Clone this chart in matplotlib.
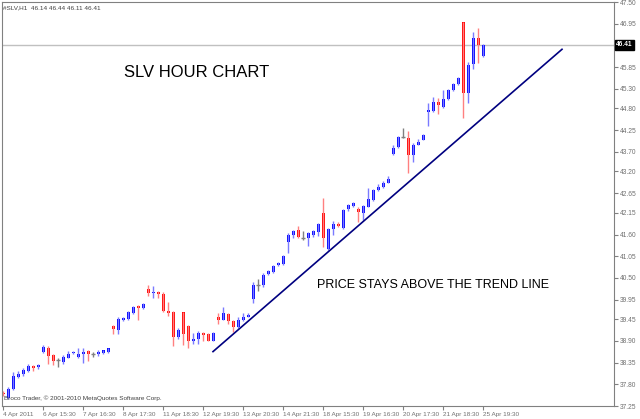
import matplotlib
matplotlib.use('Agg')
import numpy as np
from matplotlib import pyplot as plt

# SLV H1 candles (open, high, low, close)
opens = [37.58, 37.45, 37.68, 37.99, 38.07, 38.14, 38.27, 38.23, 38.63, 38.72,
         38.54, 38.41, 38.36, 38.48, 38.60, 38.50, 38.57, 38.65, 38.58, 38.57,
         38.60, 38.61, 39.29, 39.18, 39.42, 39.46, 39.60, 39.78, 39.73, 40.22,
         40.12, 40.14, 40.10, 39.66, 39.63, 38.99, 39.63, 39.29, 38.91, 38.95,
         39.09, 39.07, 38.91, 39.50, 39.44, 39.58, 39.40, 39.25, 39.42, 39.52,
         39.97, 40.31, 40.33, 40.59, 40.65, 40.82, 40.86, 41.40, 41.58, 41.71,
         41.50, 41.50, 41.58, 41.67, 42.14, 41.24, 41.73, 41.88, 41.76, 42.24,
         42.32, 42.25, 42.15, 42.31, 42.48, 42.73, 42.80, 42.92, 43.65, 43.82,
         44.07, 44.05, 43.61, 43.88, 44.01, 44.70, 44.73, 44.96, 44.84, 45.04,
         45.26, 45.41, 46.99, 45.20, 45.92, 46.58, 46.14]
highs = [37.62, 37.72, 38.10, 38.15, 38.22, 38.32, 38.30, 38.32, 38.80, 38.78,
         38.58, 38.47, 38.55, 38.65, 38.65, 38.72, 38.72, 38.66, 38.62, 38.67,
         38.67, 38.73, 39.30, 39.50, 39.50, 39.66, 39.78, 39.80, 39.86, 40.33,
         40.30, 40.18, 40.14, 39.88, 39.65, 39.22, 39.64, 39.30, 39.10, 39.15,
         39.14, 39.10, 39.12, 39.62, 39.77, 39.62, 39.42, 39.52, 39.62, 39.61,
         40.39, 40.47, 40.62, 40.70, 40.82, 40.91, 41.08, 41.63, 41.72, 41.81,
         41.68, 41.66, 41.72, 41.90, 42.52, 41.76, 41.95, 41.92, 42.26, 42.37,
         42.43, 42.30, 42.36, 42.77, 42.76, 42.87, 42.96, 43.08, 43.87, 44.10,
         44.30, 44.22, 43.92, 44.03, 44.15, 44.94, 45.08, 45.07, 45.28, 45.30,
         45.44, 45.60, 47.00, 45.98, 46.74, 46.83, 46.44]
lows = [37.50, 37.42, 37.66, 37.95, 38.00, 38.12, 38.15, 38.20, 38.60, 38.31,
        38.30, 38.23, 38.32, 38.46, 38.58, 38.47, 38.35, 38.40, 38.50, 38.53,
        38.57, 38.60, 39.08, 39.08, 39.40, 39.44, 39.58, 39.42, 39.72, 40.03,
        39.98, 39.98, 39.64, 39.54, 38.78, 38.96, 38.81, 38.72, 38.83, 38.83,
        38.90, 38.90, 38.90, 39.33, 39.42, 39.33, 39.13, 39.22, 39.40, 39.50,
        39.86, 40.16, 40.28, 40.57, 40.63, 40.80, 40.84, 41.13, 41.50, 41.50,
        41.45, 41.32, 41.55, 41.57, 41.29, 41.21, 41.60, 41.78, 41.74, 42.20,
        42.30, 41.92, 41.98, 42.29, 42.45, 42.70, 42.78, 42.90, 43.62, 43.79,
        44.05, 43.16, 43.45, 43.86, 43.99, 44.36, 44.70, 44.67, 44.82, 45.02,
        45.24, 45.39, 44.56, 44.94, 45.81, 45.96, 46.11]
closes = [37.55, 37.68, 38.00, 38.07, 38.16, 38.27, 38.21, 38.30, 38.74, 38.53,
          38.38, 38.41, 38.50, 38.58, 38.62, 38.57, 38.63, 38.58, 38.58, 38.63,
          38.66, 38.71, 39.20, 39.46, 39.47, 39.63, 39.76, 39.74, 39.84, 40.11,
          40.15, 40.08, 39.66, 39.60, 38.99, 39.18, 39.07, 38.89, 38.94, 39.09,
          39.05, 38.91, 39.10, 39.43, 39.61, 39.40, 39.26, 39.42, 39.52, 39.57,
          40.33, 40.31, 40.58, 40.67, 40.79, 40.88, 41.06, 41.58, 41.69, 41.53,
          41.50, 41.63, 41.69, 41.86, 41.50, 41.73, 41.88, 41.81, 42.23, 42.35,
          42.41, 42.16, 42.32, 42.49, 42.73, 42.80, 42.92, 43.00, 43.80, 44.08,
          44.07, 43.61, 43.88, 43.96, 44.12, 44.75, 44.96, 44.88, 45.04, 45.26,
          45.41, 45.58, 45.20, 45.89, 46.58, 46.40, 46.41]

time_labels = ['4 Apr 2011', '6 Apr 15:30', '7 Apr 16:30', '8 Apr 17:30',
               '11 Apr 18:30', '12 Apr 19:30', '13 Apr 20:30', '14 Apr 21:30',
               '18 Apr 15:30', '19 Apr 16:30', '20 Apr 17:30', '21 Apr 18:30',
               '25 Apr 19:30']
price_ticks = [47.50, 46.95, 45.85, 45.30, 44.80, 44.25, 43.70, 43.20, 42.65,
               42.15, 41.60, 41.05, 40.50, 39.95, 39.45, 38.90, 38.35, 37.80,
               37.25]
last_price = 46.41

# trend line end points (bar index, price)
trend_x = [42.0, 111.8]
trend_y = [38.63, 46.30]

SMALL = 'Liberation Sans'

o = np.array(opens)
h = np.array(highs)
l = np.array(lows)
c = np.array(closes)
idx = np.arange(len(o))

fig = plt.figure(figsize=(6.4, 4.19), dpi=100)
ax = fig.add_axes([2 / 640, 13 / 419, 612 / 640, 404 / 419])

up = c > o
down = c < o
flat = c == o

ax.vlines(idx[up], l[up], h[up], color='#7a7aff', lw=1)
ax.vlines(idx[down], l[down], h[down], color='#ff8080', lw=1)
ax.vlines(idx[flat], l[flat], h[flat], color='#808080', lw=1)

ax.bar(idx[up], (c - o)[up], bottom=o[up], width=0.6, color='#0000ff', lw=0)
ax.bar(idx[down], (o - c)[down], bottom=c[down], width=0.6, color='#ff0000', lw=0)
ax.hlines(c[flat], idx[flat] - 0.35, idx[flat] + 0.35, color='#808080', lw=1)

ax.axhline(last_price, color='#c0c0c0', lw=1, zorder=0)
ax.plot(trend_x, trend_y, color='#000080', lw=1.2)

ax.text(38.8, 45.70, 'SLV HOUR CHART', fontsize=12, family='Liberation Sans',
        ha='center', va='center')
ax.text(86, 40.32, 'PRICE STAYS ABOVE THE TREND LINE', fontsize=9,
        family='Liberation Sans', ha='center', va='center')

ax.set_xlim(-0.2, 122.2)
ax.set_ylim(37.25, 47.50)

ax.yaxis.tick_right()
ax.set_yticks(price_ticks)
ax.set_yticklabels(['%.2f' % p for p in price_ticks], family=SMALL, fontsize=4.8)
ax.set_xticks(idx[::8])
ax.set_xticklabels(time_labels, ha='left', family=SMALL, fontsize=4.6)
ax.tick_params(axis='both', length=3, width=0.8, color='#808080',
               labelcolor='#707070')
ax.tick_params(axis='x', pad=1)
ax.tick_params(axis='y', pad=1.5)
for s in ax.spines.values():
    s.set_color('#808080')
    s.set_linewidth(0.8)

ax.text(1.003, last_price, '%.2f' % last_price, transform=ax.get_yaxis_transform(),
        fontsize=4.8, family=SMALL, color='white', fontweight='bold',
        va='center', ha='left',
        bbox=dict(boxstyle='square,pad=0.2', fc='black', ec='black'))

fig.text(3 / 640, 1 - 8 / 419, '#SLV,H1  46.14 46.44 46.11 46.41', fontsize=4.6,
         family=SMALL, color='#404040', va='center', ha='left')
fig.text(4 / 640, 1 - 398 / 419, 'Broco Trader, \u00a9 2001-2010 MetaQuotes Software Corp.',
         fontsize=4.6, family=SMALL, color='#404040', va='center', ha='left')

fig.savefig('out.png', dpi=100)
